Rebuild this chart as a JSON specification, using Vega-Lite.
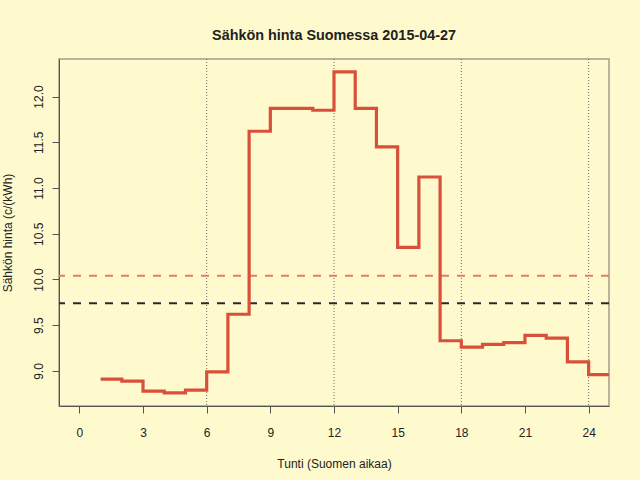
{
  "$schema": "https://vega.github.io/schema/vega-lite/v6.json",
  "description": "Sähkön tuntihinta Suomessa 2015-04-27, porrasviiva",
  "autosize": "none",
  "width": 550,
  "height": 347,
  "padding": {"left": 59, "top": 59, "right": 31, "bottom": 74},
  "background": "#FFFACD",
  "title": {
    "text": "Sähkön hinta Suomessa 2015-04-27",
    "font": "Liberation Sans",
    "fontSize": 14.4,
    "fontWeight": "bold",
    "color": "#222222",
    "offset": 15
  },
  "config": {
    "view": {"stroke": "#A39D8C", "strokeWidth": 1.5},
    "axis": {
      "labelFont": "Liberation Sans",
      "titleFont": "Liberation Sans",
      "labelFontSize": 12,
      "titleFontSize": 12,
      "titleFontWeight": "normal",
      "labelColor": "#222222",
      "titleColor": "#222222",
      "domainColor": "#555555",
      "tickColor": "#555555",
      "tickSize": 7,
      "grid": false
    }
  },
  "datasets": {
    "hinnat": [
      {"tunti": 1, "hinta": 8.91},
      {"tunti": 2, "hinta": 8.89},
      {"tunti": 3, "hinta": 8.78},
      {"tunti": 4, "hinta": 8.76},
      {"tunti": 5, "hinta": 8.79},
      {"tunti": 6, "hinta": 8.99},
      {"tunti": 7, "hinta": 9.62},
      {"tunti": 8, "hinta": 11.62},
      {"tunti": 9, "hinta": 11.87},
      {"tunti": 10, "hinta": 11.87},
      {"tunti": 11, "hinta": 11.85},
      {"tunti": 12, "hinta": 12.27},
      {"tunti": 13, "hinta": 11.87},
      {"tunti": 14, "hinta": 11.45},
      {"tunti": 15, "hinta": 10.35},
      {"tunti": 16, "hinta": 11.12},
      {"tunti": 17, "hinta": 9.33},
      {"tunti": 18, "hinta": 9.26},
      {"tunti": 19, "hinta": 9.29},
      {"tunti": 20, "hinta": 9.31},
      {"tunti": 21, "hinta": 9.39},
      {"tunti": 22, "hinta": 9.36},
      {"tunti": 23, "hinta": 9.1},
      {"tunti": 24, "hinta": 8.96},
      {"tunti": 25, "hinta": 8.96}
    ],
    "pystyviivat": [
      {"tunti": 6},
      {"tunti": 12},
      {"tunti": 18},
      {"tunti": 24}
    ],
    "tasot": [
      {"taso": 10.04, "nimi": "päivän keskihinta"},
      {"taso": 9.74, "nimi": "vertailu"}
    ]
  },
  "layer": [
    {
      "data": {"name": "pystyviivat"},
      "mark": {"type": "rule", "color": "#6E6A60", "strokeWidth": 1, "strokeDash": [1, 2]},
      "encoding": {
        "x": {"field": "tunti", "type": "quantitative"}
      }
    },
    {
      "data": {"name": "tasot"},
      "mark": {"type": "rule", "strokeWidth": 2, "strokeDash": [8, 8]},
      "encoding": {
        "y": {"field": "taso", "type": "quantitative"},
        "color": {
          "field": "nimi",
          "type": "nominal",
          "scale": {"domain": ["päivän keskihinta", "vertailu"], "range": ["#E77A66", "#2E2630"]},
          "legend": null
        }
      }
    },
    {
      "data": {"name": "hinnat"},
      "mark": {"type": "line", "interpolate": "step-after", "color": "#D9503A", "strokeWidth": 3.2, "clip": true},
      "encoding": {
        "x": {
          "field": "tunti",
          "type": "quantitative",
          "title": "Tunti (Suomen aikaa)",
          "scale": {"domain": [-0.96, 24.96], "nice": false, "zero": false},
          "axis": {"values": [0, 3, 6, 9, 12, 15, 18, 21, 24], "labelPadding": 14, "titlePadding": 20}
        },
        "y": {
          "field": "hinta",
          "type": "quantitative",
          "title": "Sähkön hinta (c/(kWh)",
          "scale": {"domain": [8.617, 12.41], "nice": false, "zero": false},
          "axis": {
            "values": [9, 9.5, 10, 10.5, 11, 11.5, 12],
            "format": ".1f",
            "labelAngle": -90,
            "labelAlign": "center",
            "labelBaseline": "bottom",
            "labelPadding": 7,
            "titlePadding": 18
          }
        }
      }
    }
  ]
}
